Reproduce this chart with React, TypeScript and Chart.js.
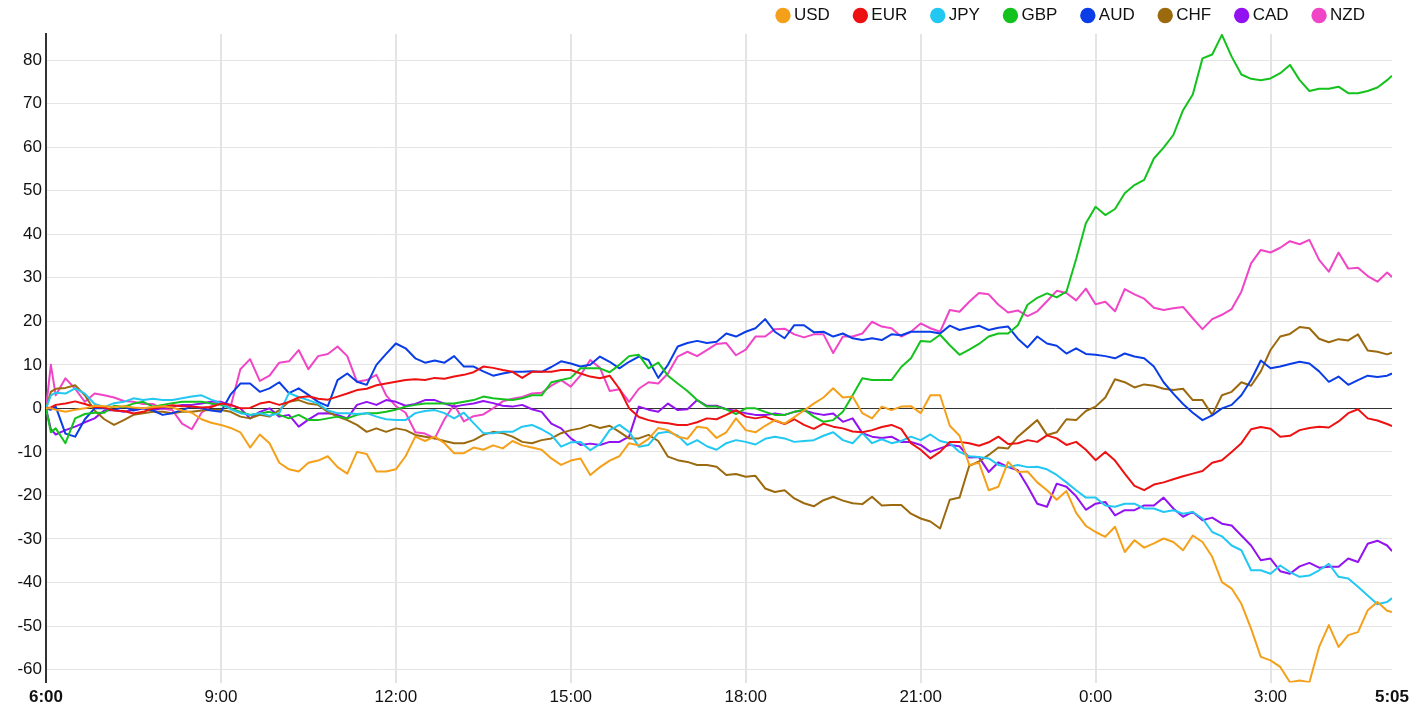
import React, { useEffect, useRef } from 'react';
import { Chart, registerables } from 'chart.js';

Chart.register(...registerables);

const FONT = '"Liberation Sans", Arial, Helvetica, sans-serif';

// minutes after 6:00 (0 = 6:00, 1385 = 5:05 next day)
const minutes: number[] = [0, 5, ...Array.from({ length: 138 }, (_, i) => (i + 1) * 10), 1385];

const xTickValues = [0, 180, 360, 540, 720, 900, 1080, 1260, 1385];
const xTickLabels = ['6:00', '9:00', '12:00', '15:00', '18:00', '21:00', '0:00', '3:00', '5:05'];
const yTickValues = [-60, -50, -40, -30, -20, -10, 0, 10, 20, 30, 40, 50, 60, 70, 80];

const currencies = ['USD', 'EUR', 'JPY', 'GBP', 'AUD', 'CHF', 'CAD', 'NZD'];
const colors = ['#f5a01a', '#ee1111', '#22c8f2', '#13c21d', '#0a3de6', '#9c6a0e', '#9212f0', '#ef45c6'];

const usd = [0, 0, -0.3, -0.8, -0.3, 0, 0.6,
  0.5, 0.3, 0.5, 0.2, 0, 0.3,
  0.5, 0.2, -0.5, -1, -2.5, -3.3,
  -3.8, -4.5, -5.5, -9, -6, -8,
  -12.5, -14, -14.5, -12.5, -12, -11,
  -13.5, -15, -10, -10.5, -14.5, -14.5,
  -14, -11, -6.5, -7.5, -6.5, -8,
  -10.3, -10.3, -9, -9.5, -8.5, -9.2,
  -7.5, -8.5, -9, -9.5, -11.5, -13,
  -12, -11.5, -15.3, -13.5, -12, -11,
  -8, -8.5, -7, -4.5, -5, -6.5,
  -7, -4.2, -4.5, -6.8, -5.5, -2.3,
  -5, -5.5, -4, -2.7, -3.5, -2,
  -0.5, 1.1, 2.5, 4.6, 2.5, 2.7,
  -1.1, -2.3, 0.4, -0.4, 0.4, 0.5,
  -1.1, 3, 3, -4, -6.3, -13,
  -12.5, -18.8, -18, -12.3, -14.6, -14.5,
  -17, -18.8, -21, -19, -24, -27,
  -28.4, -29.5, -27.2, -33, -30.3, -32,
  -31, -29.9, -30.7, -32.6, -29.2, -30.7,
  -34.1, -39.9, -41.4, -44.9, -50.6, -57.1,
  -57.9, -59.4, -62.9, -62.5, -62.9, -54.8,
  -49.8, -54.8, -52.1, -51.4, -46.4, -44.5,
  -46.5, -46.8];

const eur = [0, 0.2, 0.8, 1.1, 1.6, 1.0, 0.3,
  0.2, -0.5, -0.6, -1.2, -0.8, 0,
  0.3, 0.7, 0.5, 0.4, 0.2, 0.3,
  1.1, 0.8, 0, 0.1, 1.1, 1.5,
  0.8, 1.5, 2.5, 2.8, 2.2, 2,
  2.7, 3.4, 4.2, 4.5, 5.3, 5.7,
  6.1, 6.5, 6.7, 6.5, 7, 6.8,
  7.3, 7.7, 8.3, 9.6, 9.3, 8.8,
  8.4, 7, 8.4, 8.4, 8.4, 8.8,
  8.8, 8, 7.3, 6.9, 7.5, 4.5,
  0, -2, -2.7, -3.2, -3.4, -3.8,
  -3.8, -3.2, -2.3, -2.5, -1.5, -0.4,
  -1.9, -2.3, -1.9, -2.8, -3.6, -2.5,
  -3.8, -4.7, -3.5, -4.2, -4.6, -5.3,
  -5.5, -5, -4.3, -3.8, -4.7, -8,
  -9.5, -11.5, -10, -7.7, -7.7, -8,
  -8.6, -7.8, -6.5, -8.2, -8, -7.3,
  -7.7, -6.2, -6.9, -8.4, -7.7, -9.5,
  -11.9, -10, -12, -15, -17.8, -18.8,
  -17.5, -17, -16.3, -15.6, -15, -14.4,
  -12.5, -11.9, -10, -8, -4.8, -4.3,
  -4.7, -6.5, -6.3, -5, -4.5, -4.2,
  -4.4, -3, -1.1, -0.2, -2.3, -2.8,
  -3.6, -4.1];

const jpy = [0, 3, 3.6, 3.4, 4.6, 3.4, 1,
  0.3, 1.2, 1.5, 2.3, 1.9, 2.2,
  1.9, 1.9, 2.3, 2.7, 3, 2,
  1.2, -0.2, -1.1, -1.5, -1.1, -1.7,
  -1.1, 3.5, 2.6, 1.9, 1.1, -0.5,
  -1.1, -1.1, -1.3, -1.1, -1.9, -2.5,
  -2.7, -2.7, -1.1, -0.6, -0.4, -1.1,
  -2.3, -1, -3.4, -5.7, -5.7, -5.4,
  -5.4, -4.2, -3.8, -4.8, -6.1, -8.8,
  -7.8, -7.7, -9.6, -8.2, -5, -3.8,
  -5.4, -8.8, -8.4, -5.7, -5.4, -6.2,
  -8.4, -7.3, -8.7, -9.5, -8, -7.3,
  -7.7, -8.3, -7, -6.5, -6.9, -7.7,
  -7.5, -7.3, -6.3, -5.5, -7.3, -8,
  -5.7, -8, -7.1, -8, -7.5, -6.5,
  -7.3, -6, -7.5, -8, -10, -11,
  -11.2, -11.5, -13, -13.5, -13, -13.5,
  -13.4, -14, -15.3, -17, -18.8, -20.5,
  -20.5, -22.3, -22.6, -21.9, -21.9, -23,
  -23, -23.8, -23.4, -24.2, -23.8, -25.3,
  -28.4, -29.4, -31.5, -32.6, -37.2, -37.2,
  -38, -36.1, -37.6, -38.7, -38.4, -37.2,
  -35.7, -38.7, -39.1, -41, -43, -45,
  -44.5, -43.6];

const gbp = [0, -5.5, -4.6, -8, -2.3, -1.3, -1,
  -1, 0.6, 0.3, 1.1, 1.5, 0.4,
  0.8, 1.2, 1.5, 1.5, 1.5, 1.1,
  0.8, 0, -0.8, -1.5, -1.2, -0.8,
  -1.5, -2.3, -1.5, -2.7, -2.7, -2.3,
  -1.9, -2.3, -1.5, -1.1, -1.1, -0.8,
  -0.3, 0.4, 0.8, 1.1, 1.1, 1.1,
  1.1, 1.5, 1.9, 2.7, 2.3, 2.1,
  1.9, 2.3, 3, 3, 6, 6.5,
  7, 9.2, 9.2, 9.2, 8.3, 10,
  12, 12.3, 9.2, 10.5, 7.5, 5.7,
  4, 1.9, 0.4, 0.4, -0.2, -1.3,
  0, 0, -0.8, -1.5, -1.5, -0.8,
  -0.3, -1.9, -3.1, -2.7, -0.8, 3,
  6.9, 6.5, 6.5, 6.5, 9.5, 11.5,
  15.5, 15.3, 16.9, 14.5, 12.3, 13.5,
  14.8, 16.5, 17.2, 17.2, 19.1, 23.8,
  25.4, 26.4, 25.5, 26.8, 34.3, 42.5,
  46.3, 44.4, 45.8, 49.4, 51.3, 52.5,
  57.4, 59.9, 62.8, 68.5, 72.1, 80.4,
  81.3, 85.8, 80.8, 76.7, 75.7, 75.4,
  75.8, 77, 78.9, 75.4, 72.9, 73.4,
  73.4, 73.9, 72.4, 72.4, 72.9, 73.7,
  75.4, 76.4];

const aud = [0, -0.3, 0.4, -5.8, -6.5, -2.5, 0,
  0, -0.4, 0.4, -0.5, 0, -0.5,
  -1.5, -1.1, -0.4, 0.4, 0, -0.5,
  -0.8, 3.2, 5.7, 5.7, 3.8, 4.6,
  6, 3.5, 4.6, 3.1, 1.5, 0.5,
  6.5, 8, 6.1, 5.4, 10, 12.5,
  14.9, 13.8, 11.5, 10.5, 11, 10.5,
  12, 9.6, 9.6, 8.5, 7.5, 8,
  8.4, 8.4, 8.5, 8.4, 9.5, 10.8,
  10.3, 9.6, 10, 11.9, 10.7, 9.2,
  10.7, 11.9, 11.1, 7, 10, 14.2,
  15, 15.5, 15, 15.3, 17.2, 16.5,
  17.6, 18.4, 20.5, 17.6, 16.1, 19.1,
  19.1, 17.5, 17.6, 16.5, 17.2, 16.1,
  15.7, 16.1, 15.7, 17, 16.8, 17.6,
  17.6, 17.6, 17.2, 19, 18, 18.5,
  19, 18, 18.5, 18.8, 16, 14,
  16.5, 14.9, 14.4, 12.6, 13.8, 12.5,
  12.3, 12, 11.5, 12.6, 11.9, 11.5,
  9.6, 6, 3.4, 1, -1, -2.7,
  -1.6, 0, 0.8, 3, 6.5, 11,
  9.2, 9.6, 10.2, 10.7, 10.3, 8.5,
  6.1, 7.3, 5.4, 6.5, 7.5, 7.2,
  7.5, 8];

const chf = [0, 3.8, 4.5, 4.7, 5.3, 3, -0.5,
  -2.5, -3.8, -2.7, -1.5, -1.1, -0.8,
  -0.8, -1.1, -0.8, -0.8, -0.5, -0.4,
  -0.4, -0.8, -1.9, -2.3, -1.5, -1.9,
  -0.4, 1.5, 1.9, 1.1, 0.8, -0.8,
  -1.9, -2.7, -3.8, -5.4, -4.6, -5.4,
  -4.6, -5, -6.1, -6.5, -6.9, -7.5,
  -8, -8, -7.3, -6.1, -5.4, -5.7,
  -6.5, -7.7, -8, -7.3, -6.9, -5.7,
  -5, -4.6, -3.8, -4.5, -4, -5.4,
  -6.9, -6.9, -6.1, -7.5, -11.1, -11.9,
  -12.3, -13, -13, -13.4, -15.3, -15.1,
  -15.7, -15.5, -18.4, -19.2, -18.8, -20.7,
  -21.8, -22.5, -21.1, -20.3, -21.2, -21.8,
  -22, -20.3, -22.3, -22.2, -22.2, -24.2,
  -25.3, -26, -27.6, -21, -20.5, -13.2,
  -12.2, -10.7, -9, -9.2, -6.5, -4.6,
  -2.7, -6.1, -5.5, -2.5, -2.7, -0.6,
  0.4, 2.5, 6.7, 6, 4.8, 5.5,
  5.2, 4.5, 4.2, 4.5, 1.9, 1.9,
  -1.5, 3, 3.8, 6, 5.2, 8.5,
  13.4, 16.5, 17.1, 18.7, 18.4, 16,
  15.2, 15.9, 15.6, 17, 13.3, 13,
  12.4, 12.8];

const cad = [0, -4.8, -6, -5, -4.2, -3.2, -2.3,
  -0.5, -0.4, -0.8, -0.4, 0, -0.4,
  0, 0.4, 0.8, 0.8, 1.1, 1.5,
  1.5, 0.8, 0, -2.3, -0.8, 0,
  -1.9, -1.5, -4.2, -2.6, -1.2, -1.1,
  -1.5, -2.3, 0.8, 1.5, 0.8, 1.9,
  1.5, 0.6, 1, 1.9, 1.9, 1.1,
  0.4, 0.8, 1.1, 1.7, 1.2, 0.6,
  0.4, 0.8, -0.2, -0.8, -3.5, -4.6,
  -6.9, -8.4, -8.1, -8.4, -7.7, -7.7,
  -6.5, 0.4, -0.3, -0.8, 1.1, -0.4,
  -0.2, 1.9, 0.6, 0.6, -0.2, -0.6,
  -1.1, -1.5, -1.5, -1.2, -1.5, -0.8,
  -0.5, -1.1, -1.5, -1.2, -3.1, -2.3,
  -5.7, -6.5, -6.8, -6.5, -7.7, -7.7,
  -8.4, -10, -9.2, -8.4, -8.7, -11.3,
  -11.2, -14.6, -12.4, -13.5, -14.2, -17.9,
  -21.9, -22.6, -17.3, -18, -20.2, -23.3,
  -21.9, -21.5, -24.6, -23.4, -23.4, -22.3,
  -22.3, -20.5, -23, -24.9, -23.8, -25.7,
  -25.1, -26.5, -26.9, -29.2, -31.5, -34.9,
  -34.5, -37.4, -38, -36.3, -35.5, -36.6,
  -36.4, -36.4, -34.5, -35.3, -31.1, -30.4,
  -31.5, -32.8];

const nzd = [0, 10, 3, 6.9, 4.5, 1.5, 3.4,
  3, 2.5, 1.7, 1.5, 1, 1,
  -0.1, -0.4, -3.5, -4.8, -1, 0.6,
  1.5, 0.4, 9, 11.3, 6.3, 7.5,
  10.5, 10.8, 13.4, 9, 12, 12.5,
  14.2, 12, 6.1, 6.5, 7.7, 3,
  0.5, -1, -5.5, -5.8, -6.9, -2.5,
  0.8, -3, -1.8, -1.4, 0, 1.6,
  2.2, 2.6, 3.4, 3.6, 5.2, 6.5,
  5, 7.6, 11.1, 9.3, 4, 4.4,
  1.5, 4.5, 6, 5.7, 8, 11.9,
  13, 12, 13.4, 14.8, 15, 12.2,
  13.5, 16.5, 16.5, 18.2, 18.3, 17,
  16.3, 17, 17, 12.7, 16.5, 16.5,
  17.2, 19.9, 18.8, 18.4, 16.5, 17.6,
  19.5, 18.4, 17.6, 22.6, 22.2, 24.5,
  26.5, 26.2, 23.8, 22, 22.5, 21.2,
  22.3, 24.6, 27, 26.5, 24.8, 27.5,
  23.9, 24.5, 22.3, 27.4, 26.2, 25.2,
  23.1, 22.6, 23, 23.3, 20.7, 18.2,
  20.5, 21.5, 22.8, 26.8, 33.3, 36.4,
  35.8, 36.9, 38.4, 37.7, 38.7, 34.1,
  31.4, 35.8, 32.1, 32.3, 30.4, 29.1,
  31.2, 30.2];

const seriesValues = [usd, eur, jpy, gbp, aud, chf, cad, nzd];

export default function App() {
  const canvasRef = useRef<HTMLCanvasElement>(null);

  useEffect(() => {
    document.body.style.margin = '0';
    const canvas = canvasRef.current;
    if (!canvas) return;

    const datasets = currencies.map((label, k) => ({
      label,
      data: minutes.map((m, i) => ({ x: m, y: seriesValues[k][i] })),
      borderColor: colors[k],
      backgroundColor: colors[k],
      borderWidth: 2,
      pointRadius: 0,
      pointHoverRadius: 0,
      tension: 0,
      borderJoinStyle: 'round' as const,
    }));

    const chart = new Chart(canvas, {
      type: 'line',
      data: { datasets },
      options: {
        animation: false,
        responsive: false,
        maintainAspectRatio: false,
        layout: { padding: { top: -21, right: 21, bottom: 3, left: 0 } },
        plugins: {
          legend: {
            position: 'top',
            align: 'end',
            labels: {
              usePointStyle: true,
              pointStyle: 'circle',
              boxWidth: 5,
              boxHeight: 9.5,
              padding: 28,
              color: '#111',
              font: { size: 17, family: FONT },
            },
          },
          tooltip: { enabled: false },
        },
        scales: {
          x: {
            type: 'linear',
            min: 0,
            max: 1385,
            afterBuildTicks: (scale: any) => {
              scale.ticks = xTickValues.map((v) => ({ value: v }));
            },
            ticks: {
              autoSkip: false,
              maxRotation: 0,
              minRotation: 0,
              padding: 5,
              color: '#111',
              font: (c: any) => ({
                size: 17,
                family: FONT,
                weight: c.index === 0 || c.index === xTickValues.length - 1 ? 'bold' : 'normal',
              }),
              callback: (_v: any, i: number) => xTickLabels[i],
            },
            grid: {
              drawTicks: false,
              lineWidth: 2,
              color: (c: any) =>
                c.tick && (c.tick.value === 0 || c.tick.value === 1385) ? 'rgba(0,0,0,0)' : '#e4e4e4',
            },
            border: { display: false },
          },
          y: {
            type: 'linear',
            min: -63,
            max: 86,
            afterBuildTicks: (scale: any) => {
              scale.ticks = yTickValues.map((v) => ({ value: v }));
            },
            afterFit: (scale: any) => {
              scale.width = 46;
            },
            ticks: {
              padding: 4,
              color: '#111',
              font: { size: 17, family: FONT },
            },
            grid: {
              drawTicks: false,
              lineWidth: 1,
              color: (c: any) => (c.tick && c.tick.value === 0 ? '#333' : '#e4e4e4'),
            },
            border: { display: true, color: '#333', width: 2 },
          },
        },
      },
    });

    return () => chart.destroy();
  }, []);

  return (
    <div style={{ position: 'absolute', left: 0, top: 0, width: 1414, height: 716 }}>
      <canvas ref={canvasRef} width={1414} height={716} style={{ display: 'block', width: 1414, height: 716 }} />
    </div>
  );
}
